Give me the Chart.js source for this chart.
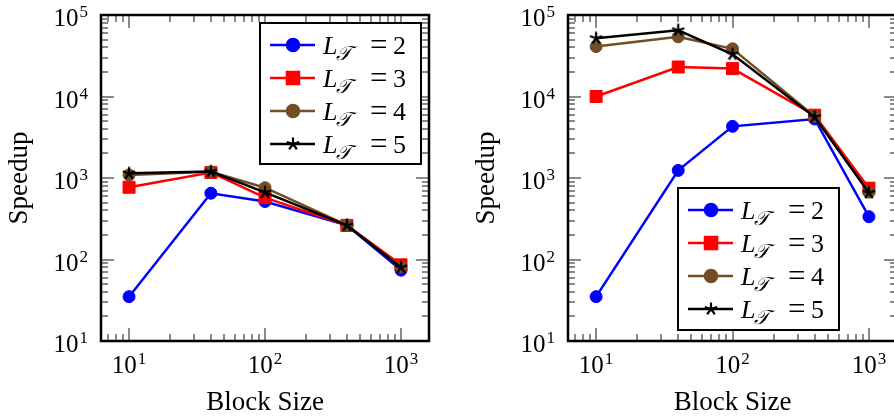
<!DOCTYPE html>
<html>
<head>
<meta charset="utf-8">
<script src="https://cdn.jsdelivr.net/npm/chart.js@4.4.0/dist/chart.umd.min.js"></script>
<style>
  html, body { margin: 0; padding: 0; background: #fff; overflow: hidden; }
  #wrap { position: relative; width: 894px; height: 417px; overflow: hidden; }
  .panel { position: absolute; top: 0; height: 417px; }
  #left { left: 0; width: 447px; }
  #right { left: 447px; width: 460px; }
</style>
</head>
<body>
<div id="wrap">
  <div class="panel" id="left"><canvas id="chartLeft"></canvas></div>
  <div class="panel" id="right"><canvas id="chartRight"></canvas></div>
</div>
<script>
// block sizes on the x axis
const blockSizes = [10, 40, 100, 400, 1000];
const levels = ["2", "3", "4", "5"];
const xTickExps = [1, 2, 3];
const yTickExps = [1, 2, 3, 4, 5];

// left panel speedups
const leftL2 = [35, 650, 515, 262, 74];
const leftL3 = [770, 1170, 575, 262, 86];
const leftL4 = [1090, 1190, 760, 265, 81];
const leftL5 = [1140, 1200, 665, 262, 80];

// right panel speedups
const rightL2 = [35, 1240, 4300, 5300, 335];
const rightL3 = [10000, 23000, 22000, 5900, 750];
const rightL4 = [41000, 54000, 38500, 5700, 670];
const rightL5 = [52000, 65000, 33000, 5600, 660];

const serif = '"Liberation Serif", "DejaVu Serif", serif';

const makeStar = () => {
    const c = document.createElement("canvas");
    c.width = 16;
    c.height = 16;
    const g = c.getContext("2d");
    g.strokeStyle = "#000";
    g.lineWidth = 2.2;
    for (let k = 0; k < 5; k++) {
        const ang = -Math.PI / 2 + k * 2 * Math.PI / 5;
        g.beginPath();
        g.moveTo(8, 8);
        g.lineTo(8 + 6.5 * Math.cos(ang), 8 + 6.5 * Math.sin(ang));
        g.stroke();
    }
    return c;
};
const star = makeStar();

const looks = [
    { color: "#0000ff", pointStyle: "circle", radius: 6 },
    { color: "#ff0000", pointStyle: "rect", radius: 8.5 },
    { color: "#734d26", pointStyle: "circle", radius: 6 },
    { color: "#000000", pointStyle: star, radius: 7 },
];

// all decades and 2..9 multiples inside [min, max]
const logTicks = (min, max) => {
    const out = [];
    for (let k = Math.floor(Math.log10(min)); k <= Math.ceil(Math.log10(max)); k++) {
        for (let m = 1; m <= 9; m++) {
            const v = m * Math.pow(10, k);
            if (v >= min * 0.999 && v <= max * 1.001) out.push({ v, major: m === 1 });
        }
    }
    return out;
};

// "10" with a raised exponent
const powLabel = (ctx, exp, x, y, align) => {
    ctx.font = `25px ${serif}`;
    const wBase = ctx.measureText("10").width;
    ctx.font = `17px ${serif}`;
    const wExp = ctx.measureText(String(exp)).width;
    const total = wBase + 1 + wExp;
    const left = align === "right" ? x - total : x - total / 2;
    ctx.textAlign = "left";
    ctx.textBaseline = "alphabetic";
    ctx.fillStyle = "#000";
    ctx.font = `25px ${serif}`;
    ctx.fillText("10", left, y);
    ctx.font = `17px ${serif}`;
    ctx.fillText(String(exp), left + wBase + 1, y - 9);
};

const framePlugin = {
    id: "frame",
    beforeDatasetsDraw(chart) {
        const { ctx, chartArea: a, scales: { x, y } } = chart;
        ctx.save();
        ctx.strokeStyle = "#8a8a8a";
        ctx.lineWidth = 2;
        ctx.beginPath();
        logTicks(x.min, x.max).forEach((t) => {
            const px = Math.round(x.getPixelForValue(t.v));
            const len = t.major ? 13 : 7;
            ctx.moveTo(px, a.bottom);
            ctx.lineTo(px, a.bottom - len);
            ctx.moveTo(px, a.top);
            ctx.lineTo(px, a.top + len);
        });
        logTicks(y.min, y.max).forEach((t) => {
            const py = Math.round(y.getPixelForValue(t.v));
            const len = t.major ? 13 : 7;
            ctx.moveTo(a.left, py);
            ctx.lineTo(a.left + len, py);
            ctx.moveTo(a.right, py);
            ctx.lineTo(a.right - len, py);
        });
        ctx.stroke();
        ctx.restore();
    },
    afterDraw(chart, args, opts) {
        const { ctx, chartArea: a, scales: { x, y } } = chart;
        ctx.save();
        // box
        ctx.strokeStyle = "#000";
        ctx.lineWidth = 2.5;
        ctx.strokeRect(a.left, a.top, a.right - a.left, a.bottom - a.top);

        // tick labels
        xTickExps.forEach((e) => powLabel(ctx, e, x.getPixelForValue(Math.pow(10, e)), a.bottom + 32, "center"));
        yTickExps.forEach((e) => powLabel(ctx, e, a.left - 13, y.getPixelForValue(Math.pow(10, e)) + 11, "right"));

        // axis titles
        ctx.fillStyle = "#000";
        ctx.font = `27px ${serif}`;
        ctx.textAlign = "center";
        ctx.textBaseline = "alphabetic";
        ctx.fillText("Block Size", (a.left + a.right) / 2, a.bottom + 69);
        ctx.save();
        ctx.translate(a.left - 74, (a.top + a.bottom) / 2);
        ctx.rotate(-Math.PI / 2);
        ctx.fillText("Speedup", 0, 0);
        ctx.restore();

        // legend
        const box = opts.legend;
        ctx.fillStyle = "#fff";
        ctx.fillRect(box.x, box.y, box.w, box.h);
        ctx.strokeStyle = "#000";
        ctx.lineWidth = 2;
        ctx.strokeRect(box.x, box.y, box.w, box.h);
        levels.forEach((lvl, i) => {
            const look = looks[i];
            const ry = box.y + 22 + i * 33;
            ctx.strokeStyle = look.color;
            ctx.fillStyle = look.color;
            ctx.lineWidth = 2.5;
            ctx.beginPath();
            ctx.moveTo(box.x + 10, ry);
            ctx.lineTo(box.x + 55, ry);
            ctx.stroke();
            Chart.helpers.drawPoint(ctx, {
                pointStyle: look.pointStyle,
                radius: look.radius,
                rotation: 0,
                borderWidth: 1,
            }, box.x + 33, ry);

            ctx.fillStyle = "#000";
            ctx.textAlign = "left";
            let tx = box.x + 63;
            const base = ry + 9;
            ctx.font = `italic 26px ${serif}`;
            ctx.fillText("L", tx, base);
            tx += ctx.measureText("L").width - 1;
            ctx.font = `italic 20px ${serif}`;
            ctx.fillText("\u{1D4AF}", tx, base + 6);
            ctx.font = `31px ${serif}`;
            ctx.fillText("=", box.x + 110, base + 1);
            ctx.font = `26px ${serif}`;
            ctx.fillText(lvl, box.x + 133, base);
        });
        ctx.restore();
    },
};

const buildDatasets = (rows) => rows.map((vals, i) => ({
    label: "L = " + levels[i],
    data: blockSizes.map((b, j) => ({ x: b, y: vals[j] })),
    borderColor: looks[i].color,
    backgroundColor: looks[i].color,
    pointBackgroundColor: looks[i].color,
    pointBorderColor: looks[i].color,
    pointStyle: looks[i].pointStyle,
    pointRadius: looks[i].radius,
    pointBorderWidth: 1,
    borderWidth: 2.5,
    tension: 0,
    order: 4 - i,
}));

const makeChart = (id, rows, padding, legend) => new Chart(document.getElementById(id), {
    type: "line",
    data: { datasets: buildDatasets(rows) },
    options: {
        responsive: true,
        maintainAspectRatio: false,
        animation: false,
        devicePixelRatio: 1,
        layout: { padding },
        scales: {
            x: { type: "logarithmic", min: 6.22, max: 1607, display: false },
            y: { type: "logarithmic", min: 10, max: 100000, display: false },
        },
        plugins: {
            legend: { display: false },
            tooltip: { enabled: false },
            frame: { legend },
        },
    },
    plugins: [framePlugin],
});

makeChart("chartLeft", [leftL2, leftL3, leftL4, leftL5],
    { left: 101, top: 15, right: 18, bottom: 76 },
    { x: 260, y: 23, w: 161, h: 141 });

makeChart("chartRight", [rightL2, rightL3, rightL4, rightL5],
    { left: 121, top: 15, right: 10, bottom: 76 },
    { x: 231, y: 188, w: 161, h: 142 });
</script>
</body>
</html>
